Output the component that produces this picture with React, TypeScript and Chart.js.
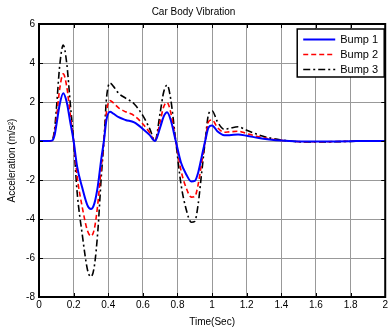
import React, { useEffect, useRef } from "react";
import { Chart, registerables } from "chart.js";

Chart.register(...registerables);

const chartTitle = "Car Body Vibration";
const xTitle = "Time(Sec)";
const yTitle = "Acceleration (m/s\u00B2)";
const seriesLabels = ["Bump 1", "Bump 2", "Bump 3"];

const times = [
  0, 0.05, 0.075, 0.09, 0.1, 0.12, 0.14, 0.16, 0.18, 0.2, 0.22, 0.25, 0.28, 0.3,
  0.32, 0.34, 0.36, 0.375, 0.39, 0.41, 0.43, 0.46, 0.5, 0.55, 0.6, 0.64, 0.67,
  0.7, 0.72, 0.74, 0.76, 0.79, 0.82, 0.85, 0.88, 0.9, 0.92, 0.94, 0.96, 0.98,
  1.0, 1.03, 1.07, 1.1, 1.15, 1.2, 1.27, 1.33, 1.4, 1.5, 1.6, 1.7, 1.8, 1.9, 2.0,
];

const bump1 = [
  0, 0, 0.02, 0.3, 0.8, 1.9, 2.45, 2.0, 1.0, 0, -1.3, -2.4, -3.3, -3.49,
  -3.2, -2.3, -0.9, 0, 1.1, 1.5, 1.4, 1.22, 1.08, 0.95, 0.62, 0.3, 0,
  0.7, 1.25, 1.47, 1.1, 0, -1.1, -1.7, -2.08, -2.05, -1.6, -0.8, 0, 0.7,
  0.8, 0.5, 0.3, 0.3, 0.33, 0.27, 0.15, 0.08, 0.02, -0.02, -0.03, -0.02, -0.01, 0, 0,
];

const bump2 = [
  0, 0, 0.03, 0.42, 1.1, 2.7, 3.44, 2.8, 1.4, 0, -1.8, -3.4, -4.6, -4.87,
  -4.5, -3.2, -1.3, 0, 1.5, 2.07, 1.95, 1.7, 1.5, 1.3, 0.87, 0.42, 0,
  1.0, 1.75, 1.97, 1.5, 0, -1.5, -2.4, -2.88, -2.85, -2.2, -1.1, 0, 1.0,
  1.08, 0.7, 0.45, 0.47, 0.5, 0.38, 0.22, 0.11, 0.03, -0.03, -0.04, -0.03, -0.01, 0, 0,
];

const bump3 = [
  0, 0, 0.04, 0.6, 1.6, 3.9, 4.92, 4.0, 2.0, 0, -2.6, -4.8, -6.6, -6.96,
  -6.4, -4.6, -1.8, 0, 2.2, 2.97, 2.8, 2.45, 2.2, 1.9, 1.3, 0.62, 0,
  1.45, 2.5, 2.87, 2.2, 0, -2.2, -3.5, -4.17, -4.12, -3.2, -1.6, 0, 1.4,
  1.55, 1.0, 0.6, 0.65, 0.73, 0.55, 0.31, 0.16, 0.05, -0.04, -0.05, -0.04, -0.02, 0, 0,
];

const seriesValues = [bump1, bump2, bump3];
const seriesColors = ["#0000ff", "#ff0000", "#000000"];
const seriesDashes = [[], [5, 3], [7, 3, 2, 3]];
const seriesWidths = [2, 1.6, 1.6];

const FONT = "'Liberation Sans', Arial, Helvetica, sans-serif";

const framePlugin = {
  id: "matlabFrame",
  afterDraw(chart: any) {
    const { ctx, chartArea } = chart;
    const { left, right, top, bottom } = chartArea;
    const xs = chart.scales.x;
    const ys = chart.scales.y;
    ctx.save();
    ctx.strokeStyle = "#000";
    ctx.lineWidth = 1;
    ctx.setLineDash([]);
    ctx.beginPath();
    xs.ticks.forEach((t: any) => {
      const px = Math.round(xs.getPixelForValue(t.value)) + 0.5;
      ctx.moveTo(px, bottom);
      ctx.lineTo(px, bottom - 4);
      ctx.moveTo(px, top);
      ctx.lineTo(px, top + 4);
    });
    ys.ticks.forEach((t: any) => {
      const py = Math.round(ys.getPixelForValue(t.value)) + 0.5;
      ctx.moveTo(left, py);
      ctx.lineTo(left + 4, py);
      ctx.moveTo(right, py);
      ctx.lineTo(right - 4, py);
    });
    ctx.stroke();
    ctx.lineWidth = 2;
    ctx.strokeRect(left, top, right - left, bottom - top);

    const w = 87;
    const h = 48;
    const lx = right - 1 - w;
    const ly = top + 5;
    ctx.fillStyle = "#fff";
    ctx.fillRect(lx, ly, w, h);
    ctx.lineWidth = 1.5;
    ctx.strokeStyle = "#000";
    ctx.strokeRect(lx, ly, w, h);
    ctx.font = "11px " + FONT;
    ctx.textBaseline = "middle";
    ctx.textAlign = "left";
    chart.data.datasets.forEach((ds: any, i: number) => {
      const cy = ly + 10.5 + i * 15;
      ctx.beginPath();
      ctx.strokeStyle = ds.borderColor;
      ctx.lineWidth = ds.borderWidth;
      ctx.setLineDash(ds.borderDash || []);
      ctx.moveTo(lx + 6, cy);
      ctx.lineTo(lx + 38, cy);
      ctx.stroke();
      ctx.setLineDash([]);
      ctx.fillStyle = "#000";
      ctx.fillText(ds.label, lx + 43, cy);
    });
    ctx.restore();
  },
};

export default function App() {
  const ref = useRef<HTMLCanvasElement>(null);
  useEffect(() => {
    document.body.style.margin = "0";
    const canvas = ref.current;
    if (!canvas) return;
    const chart = new Chart(canvas, {
      type: "line",
      data: {
        datasets: seriesLabels.map((label, i) => ({
          label,
          data: times.map((t, j) => ({ x: t, y: seriesValues[i][j] })),
          borderColor: seriesColors[i],
          backgroundColor: seriesColors[i],
          borderWidth: seriesWidths[i],
          borderDash: seriesDashes[i],
          pointRadius: 0,
          cubicInterpolationMode: "monotone" as const,
          fill: false,
        })),
      },
      options: {
        responsive: false,
        animation: false,
        maintainAspectRatio: false,
        layout: { padding: { left: 0, right: 3, top: 0, bottom: 0 } },
        plugins: {
          legend: { display: false },
          tooltip: { enabled: false },
          title: {
            display: true,
            text: chartTitle,
            color: "#000",
            font: { family: FONT, size: 10, weight: "normal" },
            padding: { top: 6, bottom: 6 },
          },
        },
        scales: {
          x: {
            type: "linear",
            min: 0,
            max: 2,
            border: { display: false },
            ticks: {
              stepSize: 0.2,
              color: "#000",
              font: { family: FONT, size: 10 },
              padding: 2,
              maxRotation: 0,
              autoSkip: false,
              callback: (v: any) => String(Number(Number(v).toFixed(1))),
            },
            grid: {
              color: "#999",
              lineWidth: 1,
              drawTicks: false,
              tickLength: 0,
            },
            title: {
              display: true,
              text: xTitle,
              color: "#000",
              font: { family: FONT, size: 10 },
              padding: { top: 0, bottom: 1 },
            },
            afterFit: (s: any) => {
              s.height = 32;
            },
          },
          y: {
            type: "linear",
            min: -8,
            max: 6,
            border: { display: false },
            ticks: {
              stepSize: 2,
              color: "#000",
              font: { family: FONT, size: 10 },
              padding: 4,
            },
            grid: {
              color: "#999",
              lineWidth: 1,
              drawTicks: false,
              tickLength: 0,
            },
            title: {
              display: true,
              text: yTitle,
              color: "#000",
              font: { family: FONT, size: 10 },
              padding: { top: 6, bottom: 0 },
            },
            afterFit: (s: any) => {
              s.width = 39;
            },
          },
        },
      },
      plugins: [framePlugin],
    });
    return () => chart.destroy();
  }, []);
  return (
    <div style={{ width: 390, height: 329 }}>
      <canvas ref={ref} width={390} height={329} style={{ display: "block" }} />
    </div>
  );
}
